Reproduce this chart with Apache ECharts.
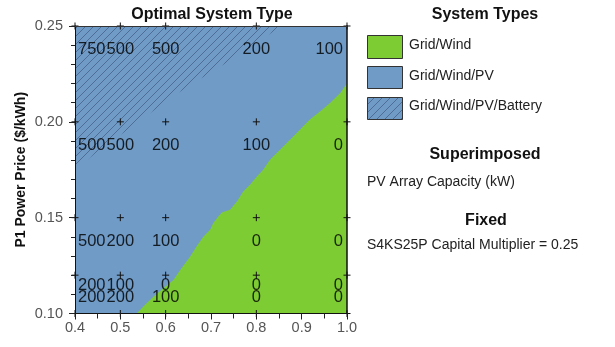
<!DOCTYPE html>
<html>
<head>
<meta charset="utf-8">
<script src="https://cdn.jsdelivr.net/npm/echarts@6/dist/echarts.min.js"></script>
<style>
  html, body { margin: 0; padding: 0; background: #ffffff; }
  #chart { width: 615px; height: 347px; }
</style>
</head>
<body>
<div id="chart"></div>
<script>
// Sweep grid (x: sweep variable, y: P1 power price in $/kWh)
const sweepX = [0.4, 0.5, 0.6, 0.8, 1.0];
const priceY = [0.25, 0.20, 0.15, 0.12, 0.10];

// PV array capacity (kW) at each sweep point, one row per price
const pvCapacity = [
  [750, 500, 500, 200, 100],
  [500, 500, 200, 100, 0],
  [500, 200, 100, 0, 0],
  [200, 100, 0, 0, 0],
  [200, 200, 100, 0, 0]
];

// Edge of the Grid/Wind region, from the bottom axis up to the right axis
const gridWindEdgeX = [0.536, 0.554, 0.573, 0.595, 0.617, 0.632, 0.654, 0.668, 0.683, 0.698, 0.705, 0.716, 0.724, 0.742, 0.757, 0.771, 0.786, 0.801, 0.815, 0.830, 0.860, 0.889, 0.918, 0.941, 0.963, 0.985, 1.0];
const gridWindEdgeY = [0.100, 0.1044, 0.1088, 0.1132, 0.1175, 0.1227, 0.1297, 0.1349, 0.1401, 0.1437, 0.1472, 0.1506, 0.1527, 0.1541, 0.1584, 0.1637, 0.1672, 0.1715, 0.1750, 0.1802, 0.1872, 0.1942, 0.2012, 0.2055, 0.2099, 0.2151, 0.2200];

// Edge of the Grid/Wind/PV/Battery region, from the left axis up to the top
const batteryEdgeX = [0.4, 0.410, 0.454, 0.527, 0.616, 0.674, 0.770, 0.851, 0.856];
const batteryEdgeY = [0.175, 0.1767, 0.1855, 0.1977, 0.2133, 0.2221, 0.2360, 0.2493, 0.25];

const X_MIN = 0.4, X_MAX = 1.0, Y_MIN = 0.10, Y_MAX = 0.25;

const BLUE = '#709BC6';
const GREEN = '#7ECC33';
const FONT = 'Liberation Sans, Arial, sans-serif';

// Diagonal hatch tile
function makeHatch() {
  const s = 8;
  const c = document.createElement('canvas');
  c.width = s; c.height = s;
  const g = c.getContext('2d');
  g.strokeStyle = 'rgba(40,62,100,0.55)';
  g.lineWidth = 0.9;
  g.beginPath();
  g.moveTo(-1, s + 1); g.lineTo(s + 1, -1);
  g.moveTo(-1, 1); g.lineTo(1, -1);
  g.moveTo(s - 1, s + 1); g.lineTo(s + 1, s - 1);
  g.stroke();
  return c;
}
const hatchTile = makeHatch();

// Polygons built from the edge arrays
const greenPoly = gridWindEdgeX.map((x, i) => [x, gridWindEdgeY[i]]).concat([[X_MAX, Y_MIN]]);
const batteryPoly = batteryEdgeX.map((x, i) => [x, batteryEdgeY[i]]).concat([[X_MIN, Y_MAX]]);

// Point list for markers and value labels
const points = [];
priceY.forEach((y, r) => sweepX.forEach((x, c) => points.push([x, y, pvCapacity[r][c], r])));

// Vertical placement of each label row relative to its marker
const rowDrop = [23.5, 23.5, 23.5, 10, -16];
const LABEL_FONT = '16.5px ' + FONT;
const measureCtx = document.createElement('canvas').getContext('2d');
measureCtx.font = LABEL_FONT;

function polygonSeries(poly, fill, z) {
  return {
    type: 'custom',
    coordinateSystem: 'cartesian2d',
    z: z,
    silent: true,
    clip: true,
    data: [0],
    renderItem: function (params, api) {
      return {
        type: 'polygon',
        shape: { points: poly.map(p => api.coord(p)) },
        style: { fill: fill, stroke: null }
      };
    }
  };
}

const chart = echarts.init(document.getElementById('chart'), null, { renderer: 'canvas' });

const axisLabelStyle = { color: '#555', fontSize: 14.5, fontFamily: FONT };

chart.setOption({
  animation: false,
  grid: { left: 75, right: 268, top: 26, bottom: 33.5, show: true, backgroundColor: BLUE, borderWidth: 0 },
  xAxis: [{
    type: 'value', min: X_MIN, max: X_MAX, interval: 0.1, z: 10,
    axisLine: { show: true, onZero: false, lineStyle: { color: '#111', width: 1 } },
    axisTick: { show: true, length: 6, lineStyle: { color: '#222' } },
    minorTick: { show: true, splitNumber: 2, length: 5, lineStyle: { color: '#222' } },
    splitLine: { show: false },
    axisLabel: Object.assign({ margin: 7, formatter: v => v.toFixed(1) }, axisLabelStyle)
  }, {
    type: 'value', min: X_MIN, max: X_MAX, position: 'top', z: 10,
    axisLine: { show: true, onZero: false, lineStyle: { color: '#333', width: 1 } },
    axisTick: { show: false }, axisLabel: { show: false }, splitLine: { show: false }
  }],
  yAxis: [{
    type: 'value', min: Y_MIN, max: Y_MAX, interval: 0.05, z: 10,
    name: 'P1 Power Price ($/kWh)', nameLocation: 'middle', nameGap: 47,
    nameTextStyle: { fontSize: 14, fontWeight: 'bold', color: '#111', fontFamily: FONT },
    axisLine: { show: true, onZero: false, lineStyle: { color: '#111', width: 1 } },
    axisTick: { show: true, length: 6, lineStyle: { color: '#222' } },
    minorTick: { show: true, splitNumber: 5, length: 4, lineStyle: { color: '#222' } },
    splitLine: { show: false },
    axisLabel: Object.assign({ margin: 12, formatter: v => v.toFixed(2) }, axisLabelStyle)
  }, {
    type: 'value', min: Y_MIN, max: Y_MAX, position: 'right', z: 10,
    axisLine: { show: true, onZero: false, lineStyle: { color: '#111', width: 1.5 } },
    axisTick: { show: false }, axisLabel: { show: false }, splitLine: { show: false }
  }],
  series: [
    polygonSeries(greenPoly, GREEN, 1),
    polygonSeries(batteryPoly, { image: hatchTile, repeat: 'repeat' }, 2),
    {
      // "+" markers at each sweep point
      type: 'custom', coordinateSystem: 'cartesian2d', z: 3, silent: true, clip: false,
      data: points,
      renderItem: function (params, api) {
        const p = api.coord([api.value(0), api.value(1)]);
        const h = 3.5;
        return {
          type: 'group',
          children: [
            { type: 'line', shape: { x1: p[0] - h, y1: p[1], x2: p[0] + h, y2: p[1] }, style: { stroke: '#111', lineWidth: 1 } },
            { type: 'line', shape: { x1: p[0], y1: p[1] - h, x2: p[0], y2: p[1] + h }, style: { stroke: '#111', lineWidth: 1 } }
          ]
        };
      }
    },
    {
      // PV capacity labels, kept inside the plot area
      type: 'custom', coordinateSystem: 'cartesian2d', z: 4, silent: true, clip: false,
      data: points,
      renderItem: function (params, api) {
        const p = api.coord([api.value(0), api.value(1)]);
        const txt = String(api.value(2));
        const w = measureCtx.measureText(txt).width;
        const left = params.coordSys.x, right = params.coordSys.x + params.coordSys.width;
        let cx = p[0];
        cx = Math.max(cx, left + 3 + w / 2);
        cx = Math.min(cx, right - 4 - w / 2);
        return {
          type: 'text',
          style: {
            x: cx, y: p[1] + rowDrop[api.value(3)],
            text: txt, font: LABEL_FONT,
            fill: 'rgba(0,0,0,0.82)', align: 'center', verticalAlign: 'middle'
          }
        };
      }
    }
  ],
  graphic: [
    { type: 'text', x: 212, y: 15, style: { text: 'Optimal System Type', font: 'bold 16px ' + FONT, fill: '#111', align: 'center', verticalAlign: 'middle' } },

    { type: 'text', x: 485, y: 15, style: { text: 'System Types', font: 'bold 16px ' + FONT, fill: '#111', align: 'center', verticalAlign: 'middle' } },
    { type: 'rect', shape: { x: 367.5, y: 35.5, width: 35, height: 23 }, style: { fill: GREEN, stroke: '#333', lineWidth: 1 } },
    { type: 'text', x: 409, y: 45.5, style: { text: 'Grid/Wind', font: '14px ' + FONT, fill: '#222', verticalAlign: 'middle' } },
    { type: 'rect', shape: { x: 367.5, y: 66.5, width: 35, height: 22 }, style: { fill: BLUE, stroke: '#333', lineWidth: 1 } },
    { type: 'text', x: 409, y: 76, style: { text: 'Grid/Wind/PV', font: '14px ' + FONT, fill: '#222', verticalAlign: 'middle' } },
    { type: 'rect', shape: { x: 367.5, y: 97.5, width: 35, height: 22 }, style: { fill: BLUE, stroke: null } },
    { type: 'rect', shape: { x: 367.5, y: 97.5, width: 35, height: 22 }, style: { fill: { image: hatchTile, repeat: 'repeat' }, stroke: '#333', lineWidth: 1 } },
    { type: 'text', x: 409, y: 106, style: { text: 'Grid/Wind/PV/Battery', font: '14px ' + FONT, fill: '#222', verticalAlign: 'middle' } },

    { type: 'text', x: 485, y: 155, style: { text: 'Superimposed', font: 'bold 16px ' + FONT, fill: '#111', align: 'center', verticalAlign: 'middle' } },
    { type: 'text', x: 367, y: 182, style: { text: 'PV Array Capacity (kW)', font: '14px ' + FONT, fill: '#222', verticalAlign: 'middle' } },
    { type: 'text', x: 486, y: 221, style: { text: 'Fixed', font: 'bold 16px ' + FONT, fill: '#111', align: 'center', verticalAlign: 'middle' } },
    { type: 'text', x: 367, y: 245, style: { text: 'S4KS25P Capital Multiplier = 0.25', font: '14px ' + FONT, fill: '#222', verticalAlign: 'middle' } }
  ]
});
</script>
</body>
</html>
